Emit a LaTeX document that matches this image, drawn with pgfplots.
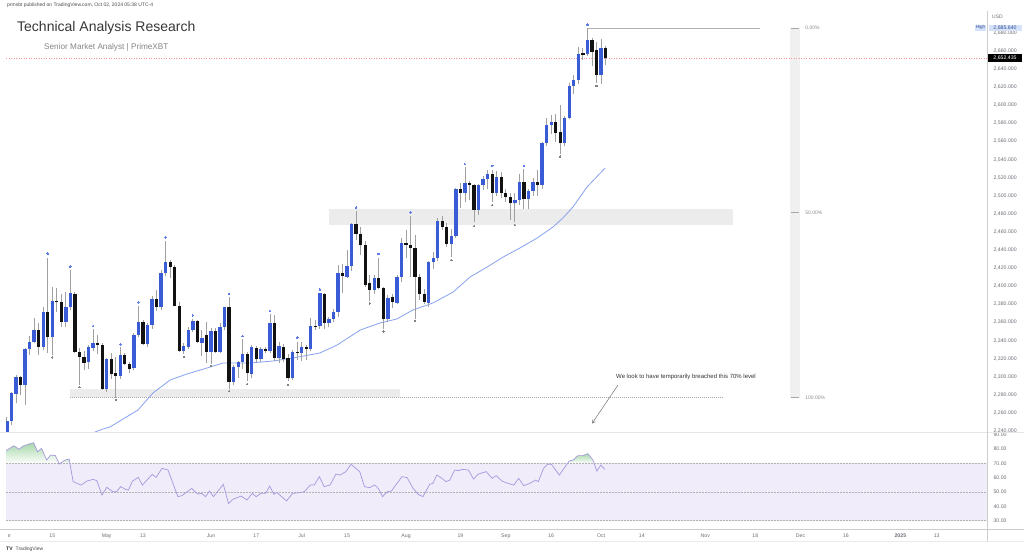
\documentclass[border=0pt]{standalone}
\usepackage{pgfplots}
\usepackage{pgfplotstable}
\pgfplotsset{compat=1.18}
\usepackage{fontspec}
\setmainfont{Liberation Sans}
\usetikzlibrary{arrows.meta}

\definecolor{cup}{RGB}{57,91,214}
\definecolor{cdown}{RGB}{18,18,18}
\definecolor{wick}{RGB}{160,160,160}
\definecolor{mac}{RGB}{135,162,240}
\definecolor{rsic}{RGB}{165,152,222}
\definecolor{rsiband}{RGB}{240,236,249}
\definecolor{rsigreen}{RGB}{165,215,168}
\definecolor{zone}{RGB}{236,236,236}
\definecolor{lbl}{RGB}{110,112,120}
\definecolor{sep}{RGB}{205,205,205}
\definecolor{pline}{RGB}{242,150,150}
\definecolor{hib}{RGB}{214,226,250}
\definecolor{hit}{RGB}{50,80,150}
\definecolor{topmk}{RGB}{95,125,230}
\definecolor{botmk}{RGB}{130,130,130}

% up (blue) candles: bar index (trading day from 1 Apr 2024), open, high, low, close
\pgfplotstableread{
i O H L C
0 2233 2256 2229 2251.5
1 2251.5 2283.6 2246.7 2281.7
2 2281.5 2302 2270.7 2300.1
4 2290.9 2331.4 2268.8 2330.3
5 2330.3 2345 2324 2338.8
6 2338.8 2364.6 2337 2351.7
8 2333.3 2377.5 2329.6 2372
10 2344.3 2399.6 2324 2383.8
13 2361 2394 2355 2377.5
14 2377.5 2417.8 2374 2392.2
18 2316.7 2335 2309 2333.3
19 2332 2352.5 2328 2337.7
22 2286.2 2320.4 2283.6 2319.3
25 2301 2333 2298 2324
28 2309.4 2348 2307.5 2346.2
29 2346.2 2378.5 2344.4 2360.2
31 2336 2359 2333 2357.2
32 2357.2 2389 2353 2386
34 2376.7 2418 2374 2414.3
35 2414.3 2450.5 2411 2426.5
39 2329 2337 2325 2334
40 2333 2355 2331 2351.7
41 2351.7 2364 2350 2361.7
43 2337.7 2351.7 2323 2342.5
45 2327.8 2353.6 2314.5 2350.5
47 2327.8 2359 2326 2355.4
48 2355.4 2377.5 2352 2376.8
50 2294.6 2313 2291 2311.2
51 2311.2 2318 2299 2316.7
52 2316.7 2342 2309 2325.2
54 2303 2335 2299 2332.6
56 2319.3 2333 2316 2330.3
58 2329 2369 2326 2359.8
60 2320.4 2338 2315 2334
63 2298.3 2330 2297 2327.8
65 2326.7 2338 2318 2332.6
67 2330.3 2365 2328 2356.1
69 2356.1 2392.5 2353 2392.2
71 2359.5 2366 2355 2364
72 2364 2375 2360 2372
73 2372 2424 2366 2415.1
75 2410.6 2440 2409 2422.4
76 2422.4 2469.6 2417 2469.3
81 2395.9 2412 2392 2409.5
84 2363.5 2390 2360 2386.7
86 2382 2413 2380 2410.6
87 2410.6 2453 2405 2447.5
93 2382 2428 2377 2427
94 2427 2438 2419 2431
95 2431 2475 2428 2472.2
98 2446.7 2463 2432 2455.6
99 2455.6 2509 2453 2507.1
101 2503.5 2531.5 2493 2513.8
104 2484.3 2513 2479 2512
105 2512 2522 2506 2518.2
106 2518.2 2528 2507 2524.1
108 2503.5 2527 2500 2521.1
112 2491.7 2503 2471 2495.4
113 2495.4 2524 2490 2515.6
115 2496 2508 2485 2505.7
116 2505.7 2520 2500 2515.6
118 2512 2560 2508 2558.7
119 2558.7 2585.6 2555 2578.3
120 2578.3 2589 2568 2582
123 2558 2588 2555 2586.4
124 2586.4 2625 2585 2621.7
125 2621.7 2634 2613 2628
126 2628 2664 2623 2656.3
128 2656.4 2685.6 2655 2672.2
131 2633.5 2673 2624 2663
}\upc

% down (black) candles
\pgfplotstableread{
i O H L C
3 2299.4 2300.5 2279.9 2290.9
7 2351.7 2359 2324 2333.3
9 2372 2431.5 2326.4 2344.3
11 2383.8 2397.8 2372 2382.5
12 2383 2392 2355 2361
15 2392 2393.5 2326 2327.8
16 2327.8 2331.5 2291 2322.2
17 2322.2 2328 2308 2315.6
20 2337.7 2346 2325 2335
21 2335 2337 2285.5 2286.2
23 2319.3 2326 2298 2303
24 2303.8 2322 2277 2300.9
26 2324 2326 2313 2314
27 2314 2316.7 2303.8 2308.3
30 2360.2 2362.8 2335 2335.9
33 2386 2396 2373 2376.7
36 2426.5 2429 2409 2421.7
37 2421.7 2424 2378 2378.2
38 2378.2 2383 2327.5 2328.9
42 2361.7 2363 2337 2338.8
44 2346 2360 2315 2327.8
46 2350.5 2354 2326 2327.8
49 2376.8 2388 2287 2294.6
53 2325.2 2327 2295 2303.8
55 2331.5 2334 2316 2319.3
57 2330.3 2333 2326 2328.9
59 2359.8 2368 2317 2320.4
61 2333.3 2336 2316 2319.3
62 2320.4 2325 2295 2298.3
64 2327.8 2339 2319 2326.7
66 2332.6 2335 2319 2330.3
68 2356.4 2363 2352 2355.4
70 2391.5 2393 2353 2359.8
74 2415.1 2425 2393 2411.4
77 2469.3 2483.7 2451 2458
78 2458 2465 2435 2445.6
79 2445.6 2450 2399 2401.4
80 2404 2412 2384 2395.9
82 2409.5 2431 2397 2397.8
83 2397.8 2399 2353 2363.5
85 2388.6 2391 2376 2383
88 2447.5 2462 2431 2445.6
89 2445.6 2478 2410 2441.9
90 2441.9 2457 2364 2410.6
91 2410.6 2414 2385 2391.1
92 2391.1 2397 2380 2383
96 2472.2 2478 2462 2465.1
97 2465 2470 2443 2446.7
100 2507.1 2513.8 2486 2503.5
102 2513.8 2516 2495 2512
103 2512 2513 2471 2484.3
107 2524.1 2529 2493 2503.5
109 2521.1 2526 2498 2503.5
110 2503.5 2507 2493 2499
111 2499 2503 2473 2491.7
114 2515.6 2529.5 2485 2496
117 2515.6 2528 2500 2512
121 2582 2590 2560 2569
122 2570 2600 2546 2558
127 2657.4 2663.7 2650 2655.6
129 2672.2 2674 2643 2658.5
130 2661 2670 2624.7 2633.5
132 2663 2666 2644.6 2652.4
}\downc

% pivot markers
\pgfplotstableread{
i p
9 2436
14 2421.7
19 2356
25 2336
29 2382.3
35 2454
41 2368
49 2391.5
52 2345
58 2372.7
64 2343.2
69 2396.6
77 2487
82 2435.7
89 2481.8
101 2535
107 2533
114 2533
128 2689
}\topm

\pgfplotstableread{
i p
10 2321.5
16 2288.4
24 2274.4
39 2322.2
45 2312
49 2284
53 2292
62 2291
80 2381.2
83 2349.9
90 2361.7
98 2429
103 2466.6
107 2489.8
112 2467.7
122 2543.3
130 2621.4
}\botm

% moving average
\pgfplotstableread{
i p
17.0 2226
19.4 2239
21.2 2242.3
22.7 2244.5
28.9 2263.3
32.2 2282.1
36.0 2296.5
39.7 2303.1
44.1 2309.7
47.6 2315.2
53.6 2315.2
58.7 2317.5
63.1 2320.8
69.0 2326.3
72.8 2335.1
77.9 2351.7
82.3 2359.5
86.0 2363.9
89.5 2373.8
93.9 2381.5
98.4 2393.7
102.1 2410.2
105.9 2421.3
109.4 2432.3
113.1 2442.3
116.9 2453.3
120.4 2465.5
122.6 2475.5
124.8 2487.6
127.9 2509.7
131.9 2530.7
}\ma

% RSI
\pgfplotstableread{
i r
-0.2 79.0
0.05 79.4
1.53 82.4
2.66 79.9
3.71 82.4
5.45 84.1
5.89 84.5
6.76 78.2
7.63 80.6
8.76 72.4
9.64 75.9
10.68 75.5
11.55 69.6
12.86 72.4
13.73 73.1
14.6 57.3
16.35 54.9
17.65 57.7
18.96 58.9
19.83 58.0
20.97 47.9
22.01 53.3
23.32 50.3
24.19 50.3
25.06 53.8
26.19 51.9
26.8 51.4
27.68 57.7
28.98 60.3
29.86 54.9
32.03 62.4
32.9 60.3
34.21 66.6
35.52 65.4
37.7 46.8
38.57 47.5
40.75 52.6
42.06 48.6
42.93 49.1
43.8 46.8
44.67 50.7
45.54 46.8
47.72 55.4
48.85 42.1
49.9 45.1
51.64 47.2
52.95 44.5
54.08 49.1
54.96 46.8
56.0 49.1
57.05 49.1
57.92 54.2
58.88 48.4
59.49 49.8
61.67 43.8
62.97 49.1
64.54 49.6
65.59 50.3
66.9 55.0
67.77 55.0
68.9 60.8
69.95 53.8
71.25 55.0
72.56 62.6
73.43 61.9
74.74 64.3
75.87 69.4
77.79 64.3
78.84 53.8
79.97 53.1
81.1 55.0
81.97 52.2
82.84 46.8
83.89 50.3
84.76 50.7
87.11 60.8
88.25 60.1
89.55 52.6
90.69 48.4
91.73 46.8
93.22 55.4
93.91 56.1
94.78 61.9
95.92 59.6
96.79 57.3
97.66 58.4
98.71 65.4
99.58 65.0
100.45 65.9
101.76 65.4
102.89 59.1
103.94 62.6
105.68 64.3
106.99 59.6
107.86 61.5
109.17 57.7
110.47 56.1
111.78 54.9
112.82 59.6
113.96 54.5
115.27 56.1
116.57 58.4
117.18 57.3
118.31 66.6
119.19 69.4
120.06 69.4
121.8 61.9
123.98 71.7
124.85 72.4
125.9 75.5
127.03 75.5
128.08 76.9
129.21 72.4
130.08 64.7
130.95 68.9
131.82 65.9
}\rsi

\pgfplotsset{
  pane/.style={
    scale only axis, width=981pt, xmin=-0.2, xmax=216.1,
    axis line style={draw=none}, major tick length=0pt,
    tick label style={font=\fontsize{5.2}{6}\selectfont, text=lbl},
    yticklabel pos=right, ytick pos=right,
    /pgf/number format/assume math mode=true,
  },
  wicks/.style={draw=none, mark=none, forget plot,
    error bars/.cd, y dir=plus, y explicit, error mark=none,
    error bar style={draw=wick, solid, line width=0.9pt, line cap=butt}},
  bodies/.style={draw=none, mark=none, forget plot,
    error bars/.cd, y dir=plus, y explicit, error mark=none,
    error bar style={draw=#1, solid, line width=3.3pt, line cap=butt}},
}

\begin{document}
\begin{tikzpicture}[x=1pt,y=1pt]
\useasboundingbox (0,0) rectangle (1024,555);
\fill[white] (0,0) rectangle (1024,555);

% ---------- price pane ----------
\begin{axis}[pane, at={(6pt,123pt)}, anchor=south west, height=419pt,
  ymin=2239, ymax=2702, xtick=\empty,
  ytick={2240,2260,...,2680},
  yticklabel style={anchor=west, xshift=3pt, /pgf/number format/.cd, fixed, fixed zerofill, precision=3, 1000 sep={,}},
]
% zones
\fill[zone] (axis cs:13.9,2278) rectangle (axis cs:86.7,2286.2);
\fill[zone] (axis cs:71.0,2467.6) rectangle (axis cs:160.1,2485);
% fib tool
\fill[black!6] (axis cs:172.7,2277) rectangle (axis cs:174.9,2685.64);
\draw[black!30, line width=0.5pt] (axis cs:128.1,2685.64) -- (axis cs:166.1,2685.64);
\draw[black!35, line width=0.5pt, dash pattern=on 1.2pt off 0.8pt] (axis cs:13.9,2277) -- (axis cs:157.7,2277);
\draw[black!35, line width=0.5pt] (axis cs:172.9,2277) -- (axis cs:174.7,2277);
\draw[black!35, line width=0.5pt] (axis cs:172.9,2481.3) -- (axis cs:174.7,2481.3);
\draw[black!35, line width=0.5pt] (axis cs:172.9,2685.64) -- (axis cs:174.7,2685.64);
\node[anchor=west, font=\fontsize{5}{6}\selectfont, text=black!45, inner sep=0pt] at (axis cs:176.0,2685.64) {0.00\%};
\node[anchor=west, font=\fontsize{5}{6}\selectfont, text=black!45, inner sep=0pt] at (axis cs:176.0,2481.3) {50.00\%};
\node[anchor=west, font=\fontsize{5}{6}\selectfont, text=black!45, inner sep=0pt] at (axis cs:176.0,2277) {100.00\%};
% last price line
\draw[pline, line width=0.5pt, dash pattern=on 1pt off 1.5pt] (axis cs:-0.2,2652.435) -- (axis cs:216.1,2652.435);
% moving average
\addplot[mac, line width=0.8pt, mark=none, forget plot] table[x=i,y=p] {\ma};
% candles
\addplot[wicks] table[x=i, y=L, y error expr=\thisrow{H}-\thisrow{L}] {\upc};
\addplot[wicks] table[x=i, y=L, y error expr=\thisrow{H}-\thisrow{L}] {\downc};
\addplot[bodies=cup] table[x=i, y=O, y error expr=\thisrow{C}-\thisrow{O}] {\upc};
\addplot[bodies=cdown] table[x=i, y=C, y error expr=\thisrow{O}-\thisrow{C}] {\downc};
% pivots
\addplot[only marks, color=topmk, mark=*, mark size=0.85pt, mark options={solid, draw=topmk, fill=topmk, line width=0pt}, forget plot] table[x=i,y=p] {\topm};
\addplot[only marks, color=botmk, mark=*, mark size=0.7pt, mark options={solid, draw=botmk, fill=botmk, line width=0pt}, forget plot] table[x=i,y=p] {\botm};
\end{axis}

% ---------- RSI pane ----------
\begin{axis}[pane, at={(6pt,26pt)}, anchor=south west, height=96pt,
  ymin=24.2, ymax=91.3, ytick={30,40,...,90},
  yticklabel style={anchor=west, xshift=3pt, /pgf/number format/.cd, fixed, fixed zerofill, precision=2},
  xtick={0,10,22,30,45,55,65,75,88,100,110,120,131,140,154,165,175,185,197,205},
  xticklabels={Apr,15,May,13,Jun,17,Jul,15,Aug,19,Sep,16,Oct,14,Nov,18,Dec,16,{\textbf{2025}},13},
  xtick pos=bottom, xticklabel style={yshift=-1.5pt},
]
\fill[rsiband] (axis cs:-0.2,30) rectangle (axis cs:216.1,70);
\addplot[draw=none, top color=rsigreen, bottom color=white, forget plot] coordinates {(-0.2,70) (-0.2,79.0) (0.05,79.4) (1.53,82.4) (2.66,79.9) (3.71,82.4) (5.45,84.1) (5.89,84.5) (6.76,78.2) (7.63,80.6) (8.76,72.4) (9.64,75.9) (10.68,75.5) (11.49,70)} -- cycle;
\addplot[draw=none, top color=rsigreen!60!white, bottom color=white, forget plot] coordinates {(11.74,70) (12.86,72.4) (13.73,73.1) (13.9,70)} -- cycle;
\addplot[draw=none, top color=rsigreen, bottom color=white, forget plot] coordinates {(123.6,70) (123.98,71.7) (124.85,72.4) (125.9,75.5) (127.03,75.5) (128.08,76.9) (129.21,72.4) (129.48,70)} -- cycle;
\draw[black!30, line width=0.45pt, dash pattern=on 1.5pt off 1.5pt] (axis cs:-0.2,30) -- (axis cs:216.1,30);
\draw[black!30, line width=0.45pt, dash pattern=on 1.5pt off 1.5pt] (axis cs:-0.2,50) -- (axis cs:216.1,50);
\draw[black!30, line width=0.45pt, dash pattern=on 1.5pt off 1.5pt] (axis cs:-0.2,70) -- (axis cs:216.1,70);
\addplot[rsic, line width=0.7pt, mark=none, forget plot] table[x=i,y=r] {\rsi};
\end{axis}

% ---------- frame lines ----------
\draw[black!10, line width=0.5pt] (0,122.5) -- (1024,122.5);
\draw[sep, line width=0.6pt] (0,26) -- (1024,26);
\draw[black!8, line width=0.5pt] (0,14) -- (1024,14);
\draw[sep, line width=0.6pt] (987,14) -- (987,544);
\fill[white] (0,15) rectangle (7.5,25.5);

% ---------- texts ----------
\node[anchor=west, font=\fontsize{5}{6}\selectfont, text=black!70, inner sep=0pt] at (7,550) {prmsbt published on TradingView.com, Oct 02, 2024 05:38 UTC-4};
\node[anchor=west, font=\fontsize{14}{16}\selectfont, text=black!78, inner sep=0pt] at (17,527) {Technical Analysis Research};
\node[anchor=west, font=\fontsize{8.2}{10}\selectfont, text=black!48, inner sep=0pt] at (44,508) {Senior Market Analyst | PrimeXBT};
\node[anchor=west, font=\fontsize{5}{6}\selectfont, text=lbl, inner sep=0pt] at (992,538) {USD};
\node[font=\fontsize{4.6}{5}\selectfont, text=hit, fill=hib, inner sep=1pt] at (980.5,527.3) {High};
\node[font=\fontsize{5.2}{6}\selectfont, text=hit, fill=hib, inner sep=0.8pt, minimum width=33pt] at (1005,527.3) {2,685.640};
\node[font=\fontsize{5.2}{6}\selectfont, text=white, fill=black, inner sep=0.5pt, minimum width=34pt, minimum height=8.5pt] at (1005,497.2) {2,652.435};
\node[font=\fontsize{6}{7}\selectfont, text=black!80, inner sep=0pt] at (686,177.7) {We look to have temporarily breached this 70\% level};
\draw[black!55, line width=0.5pt, -{Straight Barb[length=3pt,width=4pt]}] (618,170) -- (592,131.5);
\node[anchor=west, font=\bfseries\fontsize{5}{6}\selectfont, text=black!85, inner sep=0pt] at (6,6) {TV};
\node[anchor=west, font=\fontsize{5}{6}\selectfont, text=black!70, inner sep=0pt] at (15.5,6) {TradingView};
\end{tikzpicture}
\end{document}
